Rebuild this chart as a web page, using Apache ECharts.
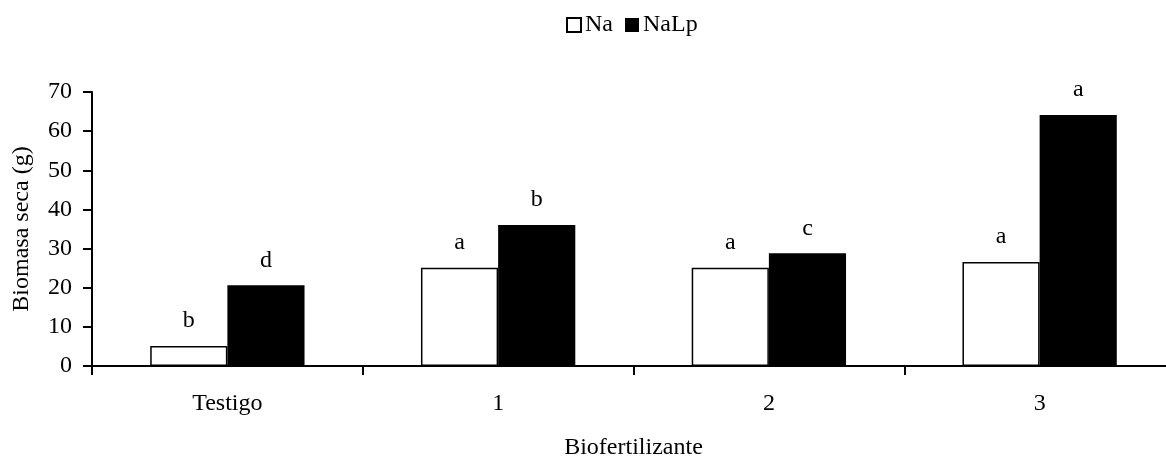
<!DOCTYPE html>
<html>
<head>
<meta charset="utf-8">
<script src="https://cdn.jsdelivr.net/npm/echarts@6/dist/echarts.min.js"></script>
<style>
  html, body { margin: 0; padding: 0; background: #fff; }
  #chart { width: 1166px; height: 458px; }
</style>
</head>
<body>
<div id="chart"></div>
<script>
// Dry biomass by biofertilizer treatment
const categories = ['Testigo', '1', '2', '3'];
const naValues = [5.1, 25.1, 25.1, 26.6];
const nalpValues = [20.6, 36.0, 28.8, 64.1];
// Significance letters shown above each bar
const naLetters = ['b', 'a', 'a', 'a'];
const nalpLetters = ['d', 'b', 'c', 'a'];
const yMin = 0, yMax = 70, yStep = 10;

const FONT = "'Liberation Serif', 'Times New Roman', serif";
const FS = 24;

const chart = echarts.init(document.getElementById('chart'), null, { renderer: 'canvas' });

function letterLabel(letters) {
  return {
    show: true,
    position: 'top',
    distance: 13,
    color: '#000',
    fontFamily: FONT,
    fontSize: FS,
    formatter: p => letters[p.dataIndex]
  };
}

chart.setOption({
  animation: false,
  backgroundColor: '#fff',
  textStyle: { fontFamily: FONT, color: '#000' },
  legend: {
    top: 8,
    left: 561,
    itemWidth: 14,
    itemHeight: 14,
    itemGap: 12,
    icon: 'rect',
    textStyle: { fontFamily: FONT, fontSize: FS, color: '#000', padding: [0, 0, 0, -1] },
    data: ['Na', 'NaLp']
  },
  grid: {
    left: 92, top: 92, width: 1083, height: 274,
    containLabel: false,
    outerBoundsMode: 'none'
  },
  xAxis: {
    type: 'category',
    data: categories,
    name: 'Biofertilizante',
    nameLocation: 'middle',
    nameGap: 70,
    nameTextStyle: { fontFamily: FONT, fontSize: FS, color: '#000' },
    axisLine: { lineStyle: { color: '#000', width: 2 } },
    axisTick: { show: true, length: 9, inside: false, lineStyle: { color: '#000', width: 2 }, alignWithLabel: false },
    axisLabel: { margin: 26, fontFamily: FONT, fontSize: FS, color: '#000' },
    splitLine: { show: false }
  },
  yAxis: {
    type: 'value',
    min: yMin,
    max: yMax,
    interval: yStep,
    name: 'Biomasa seca (g)',
    nameLocation: 'middle',
    nameGap: 58,
    nameRotate: 90,
    nameTextStyle: { fontFamily: FONT, fontSize: FS, color: '#000' },
    axisLine: { show: true, lineStyle: { color: '#000', width: 2 } },
    axisTick: { show: true, length: 9, lineStyle: { color: '#000', width: 2 } },
    axisLabel: { margin: 20, fontFamily: FONT, fontSize: FS, color: '#000' },
    splitLine: { show: false }
  },
  series: [
    {
      name: 'Na',
      type: 'bar',
      data: naValues,
      barGap: '0%',
      barCategoryGap: '43%',
      itemStyle: { color: '#fff', borderColor: '#000', borderWidth: 1.5 },
      label: letterLabel(naLetters)
    },
    {
      name: 'NaLp',
      type: 'bar',
      data: nalpValues,
      barGap: '0%',
      barCategoryGap: '43%',
      itemStyle: { color: '#000', borderColor: '#000', borderWidth: 0 },
      label: letterLabel(nalpLetters)
    }
  ]
});
</script>
</body>
</html>
